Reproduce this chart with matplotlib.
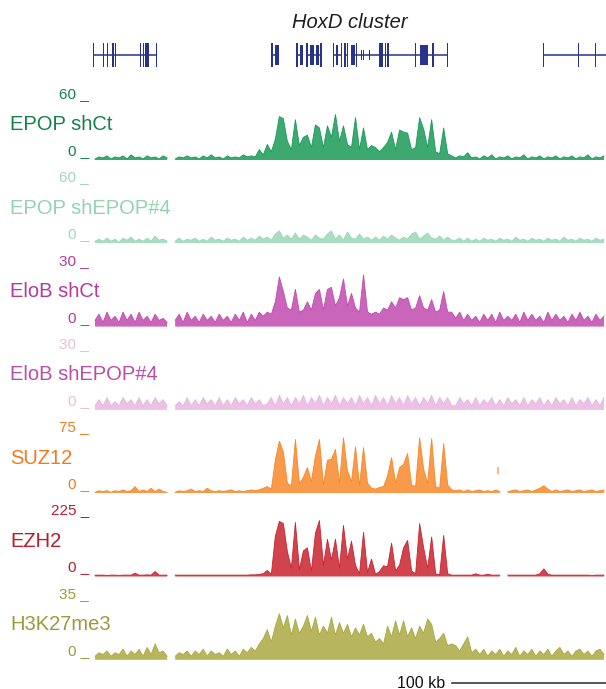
import numpy as np
import matplotlib
matplotlib.use("Agg")
import matplotlib.pyplot as plt
from matplotlib.patches import Rectangle

plt.rcParams['font.family'] = ['Liberation Sans', 'DejaVu Sans']

nan = np.nan

# Genomic window (kb) and coverage binning
REGION_KB = 333.0
N_BINS = 128
BIN_KB = REGION_KB / N_BINS
SCALE_KB = 100

# ---- coverage tracks (binned signal, NaN = no data) ----
epop_shct = ([1, 3, 2, 4, 1, 3, 2, 4, 1, 5, 2, 3, 1, 4, 2, 3, 1, 4, 2, nan,
              1, 3, 2, 4, 2, 3, 1, 4, 2, 5, 2, 3, 1, 4, 2, 3, 2, 5, 3, 4, 3, 10, 5]
             + [15, 8, 20, 42, 40, 18, 10, 39, 14, 22, 24, 12, 34, 31, 12, 33, 22, 44, 18, 33,
                15, 12, 41, 10, 31, 10, 14, 12, 8, 12, 17, 27, 10, 29, 27, 26, 10, 12, 41, 30,
                12, 39, 8, 6, 31, 6, 4]
             + [2, 4, 3, 7, 2, 3, 1, 4, 2, 5, 1, 3, 2, 4, 1, 3, 2, 5, 1, 3,
                2, 4, 1, 3, 2, 4, 1, 3, 2, 4, 1, 3, 2, 5, 1, 3, 2, 4])

epop_shepop4 = ([2, 4, 2, 5, 2, 4, 1, 5, 3, 6, 2, 4, 2, 5, 2, 7, 3, 4, 2, nan,
                 2, 5, 2, 4, 3, 5, 2, 4, 2, 6, 3, 4, 2, 5, 3, 4, 2, 6, 3, 5, 3, 7, 4]
                + [6, 3, 9, 12, 5, 8, 4, 10, 4, 8, 6, 3, 8, 5, 4, 9, 12, 4, 8, 3,
                   11, 5, 4, 9, 4, 6, 3, 6, 3, 7, 4, 8, 5, 3, 6, 4, 9, 11, 4, 7,
                   10, 5, 4, 7, 3, 6, 3]
                + [3, 5, 2, 5, 2, 4, 2, 5, 3, 4, 2, 5, 3, 4, 2, 6, 3, 4, 2, 5,
                   3, 4, 2, 5, 3, 4, 2, 6, 3, 4, 2, 5, 3, 4, 2, 5, 3, 4])

elob_shct = ([3, 6, 2, 7, 3, 5, 2, 7, 3, 6, 2, 7, 3, 5, 2, 6, 3, 4, 2, nan,
              3, 6, 2, 7, 3, 5, 2, 6, 3, 5, 2, 6, 3, 5, 2, 6, 3, 7, 2, 6, 3, 7, 5]
             + [7, 6, 12, 24, 17, 9, 8, 18, 7, 8, 12, 8, 16, 18, 8, 18, 19, 10, 14, 23,
                10, 16, 9, 7, 25, 7, 6, 7, 6, 9, 8, 12, 9, 14, 13, 14, 8, 9, 15, 9,
                8, 13, 7, 8, 17, 7, 7]
             + [4, 7, 3, 6, 3, 5, 2, 6, 3, 6, 2, 7, 3, 5, 3, 6, 2, 7, 3, 6,
                3, 5, 2, 7, 3, 6, 3, 5, 2, 6, 3, 7, 3, 5, 2, 6, 3, 5])

elob_shepop4 = ([2, 5, 2, 6, 2, 4, 2, 6, 3, 5, 2, 6, 2, 5, 2, 6, 3, 5, 2, nan,
                 2, 4, 2, 6, 2, 5, 2, 6, 3, 5, 2, 6, 2, 5, 2, 6, 3, 5, 2, 6, 3, 5, 2]
                + [3, 6, 2, 7, 3, 6, 2, 6, 3, 7, 2, 6, 3, 7, 2, 6, 3, 7, 2, 6,
                   3, 6, 2, 7, 3, 6, 2, 7, 3, 6, 2, 7, 3, 6, 2, 7, 3, 6, 2, 6,
                   3, 7, 2, 6, 3, 6, 2]
                + [2, 6, 3, 5, 2, 6, 2, 5, 3, 6, 2, 5, 2, 6, 3, 5, 2, 6, 2, 5,
                   3, 6, 2, 5, 2, 6, 3, 5, 2, 6, 2, 5, 3, 6, 2, 5, 2, 6])

suz12 = ([1, 3, 2, 3, 1, 3, 2, 4, 2, 3, 8, 2, 4, 2, 6, 2, 5, 2, 1, nan,
          1, 3, 2, 3, 5, 2, 3, 2, 6, 3, 2, 3, 2, 3, 4, 2, 3, 2, 3, 4, 3, 4, 6]
         + [8, 5, 40, 63, 50, 12, 9, 65, 12, 19, 31, 14, 45, 65, 10, 40, 41, 53, 12, 67,
            27, 14, 56, 9, 55, 12, 6, 5, 7, 8, 21, 43, 12, 31, 35, 48, 10, 8, 67, 29,
            12, 66, 8, 6, 60, 10, 4]
         + [3, 4, 2, 4, 2, 3, 4, 2, 3, 2, 4, 2, nan, 2, 3, 4, 2, 3, 4, 2,
            4, 6, 9, 5, 2, 4, 2, 3, 4, 2, 3, 4, 2, 3, 4, 2, 3, 4])
# isolated SUZ12 read stack (position kb, low, high)
suz12_island = (262.9, 23, 32)

ezh2 = ([5, 5, 5, 4, 5, 5, 4, 5, 5, 5, 12, 5, 5, 6, 5, 18, 5, 5, 5, nan,
         5, 5, 5, 5, 5, 5, 5, 5, 5, 5, 5, 5, 5, 5, 5, 5, 5, 5, 5, 6, 6, 8, 10]
        + [22, 8, 146, 200, 192, 90, 30, 196, 25, 93, 104, 20, 157, 203, 40, 135, 60, 135, 30, 185,
           63, 128, 40, 10, 160, 15, 63, 8, 18, 39, 35, 121, 20, 42, 104, 131, 20, 10, 192, 104,
           30, 143, 10, 6, 149, 10, 5]
        + [5, 5, 5, 5, 5, 10, 5, 5, 8, 5, 5, 5, nan, 5, 5, 5, 5, 5, 5, 5,
           5, 10, 28, 8, 5, 5, 5, 5, 5, 5, 5, 5, 5, 5, 4, 5, 5, 5])

h3k27me3 = ([2, 4, 3, 5, 2, 4, 3, 6, 2, 5, 3, 6, 2, 7, 3, 9, 4, 5, 2, nan,
             2, 4, 3, 5, 2, 5, 3, 6, 2, 5, 3, 4, 2, 6, 3, 5, 2, 6, 4, 7, 5, 9, 12]
            + [17, 10, 19, 26, 18, 25, 14, 23, 15, 19, 25, 16, 24, 14, 19, 15, 24, 14, 21, 15,
               20, 13, 18, 14, 20, 13, 15, 10, 12, 9, 19, 13, 22, 14, 22, 13, 18, 12, 19, 15,
               23, 20, 10, 12, 15, 8, 9]
            + [8, 5, 9, 13, 4, 6, 3, 6, 2, 5, 3, 6, 2, 5, 3, 7, 2, 5, 3, 6,
               2, 5, 3, 6, 2, 5, 7, 3, 5, 2, 5, 6, 3, 5, 2, 5, 6, 3])

track_names = ["EPOP shCt", "EPOP shEPOP#4", "EloB shCt", "EloB shEPOP#4",
               "SUZ12", "EZH2", "H3K27me3"]
track_values = [epop_shct, epop_shepop4, elob_shct, elob_shepop4, suz12, ezh2, h3k27me3]
track_max = [60, 60, 30, 30, 75, 225, 35]

label_colors = ["#13824b", "#93d3b2", "#b4389e", "#b94ea9", "#f47a20", "#b81d2c", "#9c9a3c"]
tick_colors = ["#13824b", "#9fd8ba", "#b4389e", "#e6bde0", "#f47a20", "#b81d2c", "#9c9a3c"]
fill_colors = ["#1a9a58", "#9ad7b8", "#c04aae", "#e9b6e2", "#f7882a", "#c9232f", "#aca843"]

# ---- gene models (kb): spans, thin exons, thick exons, short ticks ----
gene_spans = [(0.0, 41.5), (116.2, 120.7), (132.4, 136.3), (138.9, 148.6),
              (156.4, 161.6), (163.6, 165.5), (167.5, 230.4), (292.7, 340.0)]
thin_exons = [0.0, 7.1, 9.4, 13.0, 14.6, 30.8, 32.5, 34.4, 35.7, 41.2,
              116.2, 132.4, 138.9, 148.0, 156.4, 161.6, 163.6, 165.5,
              171.3, 186.3, 187.6, 189.9, 191.5, 209.3, 220.7, 230.1,
              292.7, 315.2, 326.2]
thick_exons = [(118.0, 120.7), (134.5, 136.3), (140.8, 143.4), (144.7, 146.7),
               (157.7, 159.0), (167.5, 170.1), (212.3, 217.4)]
short_exons = [174.0, 175.3, 177.2, 179.2]
GENE_COLOR = "#28338c"

W, H = 606, 689
fig = plt.figure(figsize=(W / 100, H / 100), dpi=100)


def fx(px):
    return px / W


def fy(py):
    return 1 - py / H


X0, X1 = 93, 606
ax_w = fx(X1) - fx(X0)

# title over the gene track
fig.text(fx(350), fy(22), "HoxD cluster", style="italic", ha="center", va="center",
         fontsize=14.5, color="#1e1e1e")

# gene track
gax = fig.add_axes([fx(X0), fy(68), ax_w, 26 / H])
gax.set_xlim(0, REGION_KB)
gax.set_ylim(-1, 1)
gax.axis("off")
for s, e in gene_spans:
    gax.plot([s, e], [0, 0], color=GENE_COLOR, lw=1.1, solid_capstyle="butt")
for p in thin_exons:
    gax.add_patch(Rectangle((p - 0.35, -0.95), 0.7, 1.9, color=GENE_COLOR, lw=0))
for s, e in thick_exons:
    gax.add_patch(Rectangle((s, -0.75), e - s, 1.5, color=GENE_COLOR, lw=0))
for p in short_exons:
    gax.add_patch(Rectangle((p - 0.3, -0.4), 0.6, 0.8, color=GENE_COLOR, lw=0))

# coverage tracks
STEP = 83.3
for k, (name, vals, vmax) in enumerate(zip(track_names, track_values, track_max)):
    base_py = 160 + STEP * k
    top_py = base_py - 62
    ax = fig.add_axes([fx(X0), fy(base_py), ax_w, 62 / H])
    ax.set_xlim(0, REGION_KB)
    ax.set_ylim(0, vmax)
    ax.axis("off")
    v = np.asarray(vals, dtype=float)
    x = (np.arange(len(v)) + 0.5) * BIN_KB
    ax.fill_between(x, 0, v, color=fill_colors[k], lw=0, alpha=0.85)
    ax.plot(x, v, color=fill_colors[k], lw=0.6)
    if name == "SUZ12":
        px_, lo, hi = suz12_island
        ax.vlines(px_, lo, hi, color=fill_colors[k], lw=1.2, alpha=0.7)

    fig.text(fx(89), fy(top_py), f"{vmax} _", ha="right", va="baseline",
             fontsize=11, color=tick_colors[k])
    fig.text(fx(89), fy(base_py - 5), "0 _", ha="right", va="baseline",
             fontsize=11, color=tick_colors[k])
    fig.text(fx(10), fy(125 + STEP * k), name, ha="left", va="center",
             fontsize=14.5, color=label_colors[k])

# scale bar
sax = fig.add_axes([fx(X0), fy(689), ax_w, 12 / H])
sax.set_xlim(0, REGION_KB)
sax.set_ylim(0, 1)
sax.axis("off")
sax.plot([REGION_KB - SCALE_KB, REGION_KB], [0.5, 0.5], color="#3a3a3a", lw=1.2,
         clip_on=False)
sax.annotate(f"{SCALE_KB} kb", xy=(REGION_KB - SCALE_KB, 0.5), xytext=(-5, 0),
             textcoords="offset points", ha="right", va="center", fontsize=11.5,
             color="#111111")

fig.savefig("out.png", dpi=100)
